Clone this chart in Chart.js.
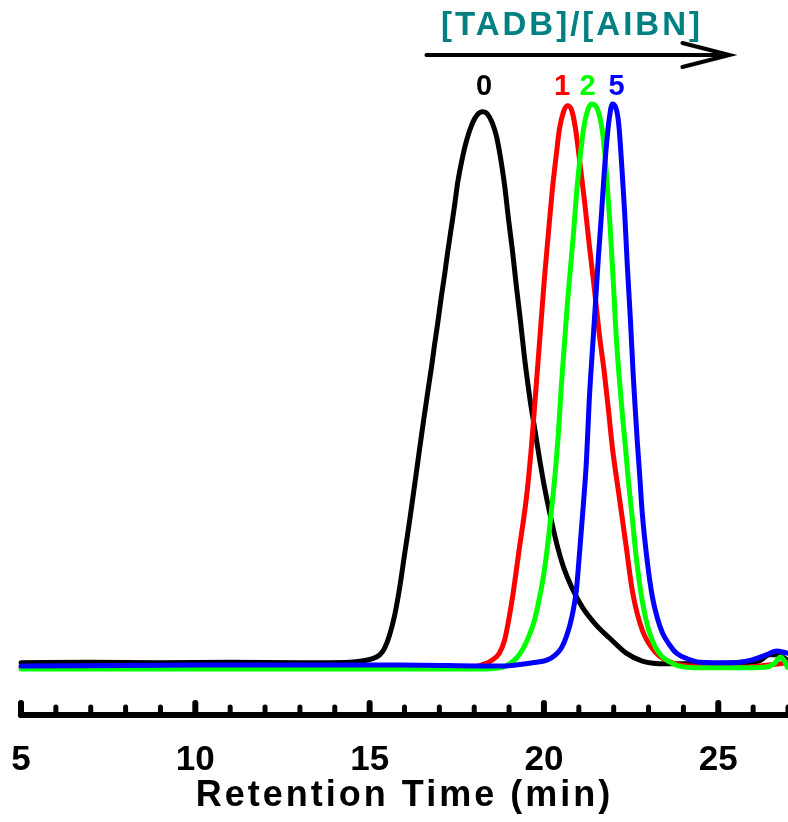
<!DOCTYPE html>
<html>
<head>
<meta charset="utf-8">
<title>GPC</title>
<script src="https://cdn.jsdelivr.net/npm/chart.js@4.4.0/dist/chart.umd.min.js"></script>
<style>
	html, body { margin: 0; padding: 0; background: #fff; }
	#contenidor { width: 788px; height: 822px; }
</style>
</head>
<body>
<div id="contenidor"><canvas id="grafic" width="788" height="822"></canvas></div>
<script>
// Temps de retenció (min) i senyal normalitzat de cada cromatograma
let tempsNegre = [5.00, 6.98, 8.98, 10.99, 13.00, 14.43, 14.77, 15.06, 15.29, 15.43, 15.57, 15.72, 15.86, 16.00, 16.15, 16.29, 16.43, 16.55, 16.69, 16.78, 16.86, 16.95, 17.06, 17.15, 17.23, 17.35, 17.44, 17.52, 17.66, 17.78, 17.95, 18.09, 18.24, 18.38, 18.52, 18.64, 18.75, 18.87, 18.98, 19.10, 19.21, 19.33, 19.44, 19.53, 19.61, 19.73, 19.87, 20.01, 20.16, 20.39, 20.56, 20.79, 21.10, 21.50, 21.88, 22.36, 22.82, 23.51, 24.46, 25.60, 26.17, 26.46, 26.69, 26.98];
let senyalNegre = [0.004, 0.005, 0.004, 0.005, 0.004, 0.005, 0.007, 0.011, 0.018, 0.030, 0.053, 0.089, 0.137, 0.196, 0.258, 0.320, 0.383, 0.436, 0.495, 0.532, 0.569, 0.607, 0.657, 0.694, 0.731, 0.781, 0.819, 0.856, 0.902, 0.933, 0.964, 0.979, 0.984, 0.980, 0.964, 0.940, 0.904, 0.854, 0.795, 0.735, 0.673, 0.610, 0.548, 0.504, 0.468, 0.422, 0.368, 0.318, 0.272, 0.210, 0.174, 0.139, 0.103, 0.071, 0.048, 0.021, 0.007, 0.002, 0.002, 0.004, 0.007, 0.018, 0.018, 0.009];

let tempsVermell = [5.00, 10.13, 15.86, 17.87, 18.30, 18.52, 18.72, 18.87, 18.98, 19.10, 19.30, 19.50, 19.64, 19.79, 19.90, 20.01, 20.13, 20.24, 20.36, 20.44, 20.56, 20.67, 20.79, 20.90, 21.02, 21.16, 21.30, 21.45, 21.59, 21.73, 21.85, 21.96, 22.16, 22.36, 22.54, 22.82, 23.22, 23.68, 24.26, 25.60, 26.46, 26.75, 26.98];
let senyalVermell = [-0.004, -0.004, -0.004, -0.004, 0.002, 0.009, 0.021, 0.044, 0.077, 0.121, 0.210, 0.299, 0.388, 0.507, 0.596, 0.685, 0.770, 0.845, 0.911, 0.952, 0.984, 0.995, 0.988, 0.956, 0.899, 0.827, 0.747, 0.667, 0.587, 0.521, 0.454, 0.388, 0.299, 0.210, 0.130, 0.062, 0.021, 0.004, -0.002, -0.004, 0.000, 0.002, 0.005];

let tempsVerd = [5.00, 13.00, 18.15, 18.81, 19.01, 19.21, 19.41, 19.58, 19.73, 19.87, 19.99, 20.10, 20.21, 20.33, 20.42, 20.50, 20.59, 20.67, 20.76, 20.85, 20.93, 21.02, 21.13, 21.24, 21.36, 21.50, 21.64, 21.73, 21.81, 21.90, 21.99, 22.07, 22.16, 22.25, 22.34, 22.42, 22.51, 22.65, 22.79, 22.91, 23.02, 23.19, 23.40, 23.65, 23.88, 24.46, 25.60, 26.32, 26.60, 26.78, 26.92, 26.98];
let senyalVerd = [-0.007, -0.007, -0.007, -0.004, 0.002, 0.012, 0.030, 0.053, 0.080, 0.119, 0.160, 0.210, 0.272, 0.347, 0.418, 0.498, 0.573, 0.641, 0.706, 0.770, 0.835, 0.893, 0.952, 0.984, 0.998, 0.993, 0.963, 0.920, 0.858, 0.778, 0.681, 0.587, 0.511, 0.445, 0.386, 0.329, 0.276, 0.190, 0.125, 0.085, 0.059, 0.032, 0.014, 0.004, -0.002, -0.005, -0.005, -0.004, 0.002, 0.014, 0.005, -0.004];

let tempsBlau = [5.00, 10.13, 15.86, 18.72, 19.67, 20.10, 20.33, 20.50, 20.64, 20.76, 20.85, 20.93, 21.02, 21.13, 21.22, 21.30, 21.39, 21.48, 21.56, 21.65, 21.73, 21.82, 21.88, 21.96, 22.05, 22.11, 22.16, 22.22, 22.31, 22.39, 22.48, 22.56, 22.62, 22.68, 22.74, 22.82, 22.97, 23.11, 23.25, 23.40, 23.60, 23.80, 24.11, 24.46, 25.40, 25.97, 26.38, 26.66, 26.98];
let senyalBlau = [-0.002, 0.000, 0.000, -0.002, 0.004, 0.009, 0.018, 0.030, 0.050, 0.075, 0.101, 0.133, 0.199, 0.285, 0.365, 0.472, 0.560, 0.646, 0.724, 0.802, 0.877, 0.943, 0.975, 0.998, 0.993, 0.979, 0.952, 0.899, 0.810, 0.712, 0.614, 0.516, 0.454, 0.395, 0.343, 0.270, 0.181, 0.121, 0.084, 0.057, 0.036, 0.021, 0.011, 0.005, 0.004, 0.009, 0.018, 0.025, 0.021];

// Etiquetes de l'eix X i relació [TADB]/[AIBN] de cada pic
let etiquetesEix = [5, 10, 15, 20, 25];
let etiquetesPics = ['0', '1', '2', '5'];
let tempsEtiquetes = [18.28, 20.52, 21.25, 22.08];
let colorsPics = ['#000000', '#ff0000', '#00ff00', '#0000ff'];

function punts(temps, senyal) {
	let llista = [];
	for (let i in temps) {
		llista.push({ x: temps[i], y: senyal[i] });
	}
	return llista;
}

// Eix inferior amb marques cap amunt i les anotacions de dalt
const eixIAnotacions = {
	id: 'eixIAnotacions',
	beforeDraw(chart) {
		// el títol de l'eix va espaiat
		chart.ctx.letterSpacing = '3px';
	},
	beforeDatasetsDraw(chart) {
		chart.ctx.letterSpacing = '0px';
	},
	afterDraw(chart) {
		let c = chart.ctx;
		let eixX = chart.scales.x;
		let yEix = chart.chartArea.bottom;

		c.save();
		c.strokeStyle = '#000';
		c.lineCap = 'round';

		// línia de l'eix
		c.lineWidth = 6;
		c.beginPath();
		c.moveTo(eixX.getPixelForValue(5), yEix);
		c.lineTo(eixX.getPixelForValue(27) + 4, yEix);
		c.stroke();

		// marques menors (cada minut)
		c.lineWidth = 5;
		for (let v = 5; v <= 27; v++) {
			if (etiquetesEix.includes(v)) continue;
			let px = eixX.getPixelForValue(v);
			c.beginPath();
			c.moveTo(px, yEix);
			c.lineTo(px, yEix - 8);
			c.stroke();
		}
		// marques majors
		c.lineWidth = 6;
		etiquetesEix.forEach((v) => {
			let px = eixX.getPixelForValue(v);
			c.beginPath();
			c.moveTo(px, yEix);
			c.lineTo(px, yEix - 12);
			c.stroke();
		});

		// fletxa [TADB]/[AIBN]
		let xInici = eixX.getPixelForValue(16.63);
		let xFi = eixX.getPixelForValue(25.32);
		c.lineWidth = 4;
		c.beginPath();
		c.moveTo(xInici, 55);
		c.lineTo(xFi, 55);
		c.moveTo(xFi - 47, 43);
		c.lineTo(xFi, 55);
		c.lineTo(xFi - 47, 67);
		c.stroke();

		c.textAlign = 'center';
		c.textBaseline = 'alphabetic';
		c.letterSpacing = '3px';
		c.fillStyle = '#008080';
		c.font = 'bold 33px Arial, "Liberation Sans", sans-serif';
		c.fillText('[TADB]/[AIBN]', eixX.getPixelForValue(20.76) + 1.5, 35);

		c.letterSpacing = '0px';
		c.font = 'bold 29px Arial, "Liberation Sans", sans-serif';
		for (let i in etiquetesPics) {
			c.fillStyle = colorsPics[i];
			c.fillText(etiquetesPics[i], eixX.getPixelForValue(tempsEtiquetes[i]), 95);
		}
		c.restore();
	}
};

Chart.defaults.font.family = 'Arial, "Liberation Sans", sans-serif';

new Chart(document.getElementById('grafic'), {
	type: 'line',
	data: {
		datasets: [
			{ label: '0', data: punts(tempsNegre, senyalNegre), borderColor: '#000000', order: 4 },
			{ label: '1', data: punts(tempsVermell, senyalVermell), borderColor: '#ff0000', order: 3 },
			{ label: '2', data: punts(tempsVerd, senyalVerd), borderColor: '#00ff00', order: 2 },
			{ label: '5', data: punts(tempsBlau, senyalBlau), borderColor: '#0000ff', order: 1 }
		]
	},
	options: {
		responsive: false,
		animation: false,
		events: [],
		layout: { padding: { left: 21, right: 0, top: 0, bottom: 0 } },
		plugins: {
			legend: { display: false },
			tooltip: { enabled: false }
		},
		datasets: {
			line: { clip: false, fill: false }
		},
		elements: {
			point: { radius: 0 },
			line: { borderWidth: 5, cubicInterpolationMode: 'monotone', borderCapStyle: 'round', borderJoinStyle: 'round' }
		},
		scales: {
			x: {
				type: 'linear',
				min: 5,
				max: 27,
				grid: { display: false, drawTicks: false },
				border: { display: false },
				afterBuildTicks: (eix) => {
					eix.ticks = etiquetesEix.map((v) => ({ value: v }));
				},
				afterFit: (eix) => {
					eix.height = 107;
					eix.paddingLeft = 0;
					eix.paddingRight = 0;
				},
				ticks: {
					padding: 24,
					z: 1,
					maxRotation: 0,
					autoSkip: false,
					color: '#000',
					font: { size: 35, weight: 'bold' }
				},
				title: {
					display: true,
					text: 'Retention Time (min)',
					color: '#000',
					font: { size: 36, weight: 'bold' },
					padding: { top: 0, bottom: 4 }
				}
			},
			y: {
				display: false,
				min: -0.089,
				max: 1.183
			}
		}
	},
	plugins: [eixIAnotacions]
});
</script>
</body>
</html>
